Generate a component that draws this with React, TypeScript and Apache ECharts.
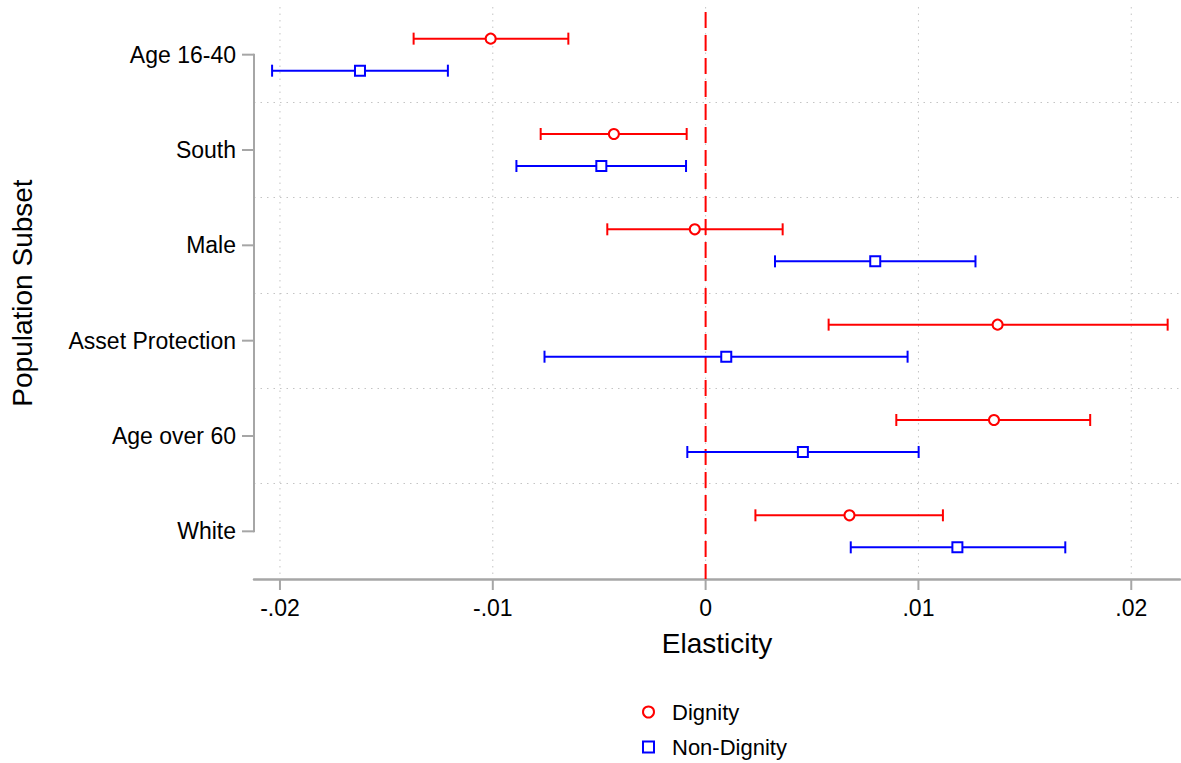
import React, { useEffect, useRef } from "react";
import * as echarts from "echarts";

const categories = [
  "Age 16-40",
  "South",
  "Male",
  "Asset Protection",
  "Age over 60",
  "White",
];

// [lower, upper, estimate] per category
const dignity = [
  [-0.01372, -0.00645, -0.0101],
  [-0.00775, -0.00089, -0.00431],
  [-0.00462, 0.00362, -0.00051],
  [0.00578, 0.02171, 0.01372],
  [0.00896, 0.01807, 0.01355],
  [0.00234, 0.01115, 0.00676],
];

const nonDignity = [
  [-0.02037, -0.01211, -0.01624],
  [-0.00889, -0.00092, -0.0049],
  [0.00326, 0.01268, 0.00797],
  [-0.00757, 0.00949, 0.00097],
  [-0.00086, 0.01001, 0.00457],
  [0.00682, 0.0169, 0.01183],
];

const xTicks = [-0.02, -0.01, 0, 0.01, 0.02];
const refLine = [0];
const X_MIN = -0.02122;
const X_MAX = 0.02229;

const RED = "#ff0000";
const BLUE = "#0000ff";
const GREY = "#a6a6a6";
const DOT = "#c4c4c4";
const FONT = "'Liberation Sans', Arial, sans-serif";

const makeRender =
  (color: string, shift: number, marker: "circle" | "rect") =>
  (params: any, api: any) => {
    const cat = api.value(3);
    const band = api.size([0, 1])[1];
    const p0 = api.coord([api.value(0), cat]);
    const p1 = api.coord([api.value(1), cat]);
    const pe = api.coord([api.value(2), cat]);
    const y = p0[1] + band * shift;
    const cap = 6;
    const line = { stroke: color, lineWidth: 2 };
    const children: any[] = [
      { type: "line", shape: { x1: p0[0], y1: y, x2: p1[0], y2: y }, style: line },
      { type: "line", shape: { x1: p0[0], y1: y - cap, x2: p0[0], y2: y + cap }, style: line },
      { type: "line", shape: { x1: p1[0], y1: y - cap, x2: p1[0], y2: y + cap }, style: line },
    ];
    if (marker === "circle") {
      children.push({
        type: "circle",
        shape: { cx: pe[0], cy: y, r: 5 },
        style: { fill: "#fff", stroke: color, lineWidth: 2 },
      });
    } else {
      children.push({
        type: "rect",
        shape: { x: pe[0] - 5, y: y - 5, width: 10, height: 10 },
        style: { fill: "#fff", stroke: color, lineWidth: 2 },
      });
    }
    return { type: "group", children };
  };

// x tick marks and vertical dotted grid lines
const renderXTicks = (params: any, api: any) => {
  const cs = params.coordSys;
  const x = api.coord([api.value(0), 0])[0];
  const bottom = cs.y + cs.height;
  return {
    type: "group",
    children: [
      {
        type: "line",
        shape: { x1: x, y1: cs.y, x2: x, y2: bottom },
        style: { stroke: DOT, lineWidth: 1, lineDash: [1.5, 5] },
      },
      {
        type: "line",
        shape: { x1: x, y1: bottom, x2: x, y2: bottom + 11 },
        style: { stroke: GREY, lineWidth: 2 },
      },
    ],
  };
};

// y axis line from the first to the last category, with its ticks
const renderYAxis = (params: any, api: any) => {
  const cs = params.coordSys;
  const a = api.coord([X_MIN, 0]);
  const b = api.coord([X_MIN, categories.length - 1]);
  const children: any[] = [
    {
      type: "line",
      shape: { x1: cs.x, y1: a[1] - 1, x2: cs.x, y2: b[1] + 1 },
      style: { stroke: GREY, lineWidth: 2 },
    },
  ];
  categories.forEach((_, i) => {
    const p = api.coord([X_MIN, i]);
    children.push({
      type: "line",
      shape: { x1: cs.x - 12, y1: p[1], x2: cs.x, y2: p[1] },
      style: { stroke: GREY, lineWidth: 2 },
    });
  });
  return { type: "group", children };
};

const renderRef = (params: any, api: any) => {
  const cs = params.coordSys;
  const x = api.coord([api.value(0), 0])[0];
  return {
    type: "line",
    shape: { x1: x, y1: cs.y + 5, x2: x, y2: cs.y + cs.height },
    style: { stroke: RED, lineWidth: 2, lineDash: [16, 7] },
  };
};

const App = () => {
  const chartRef = useRef<HTMLDivElement>(null);

  useEffect(() => {
    if (!chartRef.current) return;
    const chart = echarts.init(chartRef.current, undefined, { renderer: "svg" });

    const option: echarts.EChartsOption = {
      animation: false,
      backgroundColor: "#fff",
      textStyle: { fontFamily: FONT },
      grid: { left: 252, right: 1, top: 7, bottom: 184 },
      legend: {
        orient: "vertical",
        left: 642,
        top: 700,
        padding: 0,
        itemWidth: 11,
        itemHeight: 11,
        itemGap: 11,
        textStyle: {
          fontFamily: FONT,
          fontSize: 22,
          color: "#000",
          lineHeight: 24,
          padding: [0, 0, 0, 13],
        },
        data: [
          {
            name: "Dignity",
            icon: "circle",
            itemStyle: { color: "#fff", borderColor: RED, borderWidth: 2 },
          },
          {
            name: "Non-Dignity",
            icon: "rect",
            itemStyle: { color: "#fff", borderColor: BLUE, borderWidth: 2 },
          },
        ],
      },
      xAxis: {
        type: "value",
        min: X_MIN,
        max: X_MAX,
        name: "Elasticity",
        nameLocation: "middle",
        nameGap: 50,
        nameTextStyle: { fontFamily: FONT, fontSize: 28, color: "#000" },
        axisLine: { show: true, lineStyle: { color: GREY, width: 2.5 } },
        axisTick: { show: false },
        axisLabel: {
          showMinLabel: false,
          showMaxLabel: false,
          margin: 17,
          fontFamily: FONT,
          fontSize: 23,
          color: "#000",
          formatter: (v: number) =>
            v === 0 ? "0" : String(v).replace("0.", "."),
        },
        splitLine: { show: false },
      },
      yAxis: {
        type: "category",
        data: categories,
        inverse: true,
        name: "Population Subset",
        nameLocation: "middle",
        nameGap: 218,
        nameTextStyle: { fontFamily: FONT, fontSize: 28, color: "#000" },
        axisLine: { show: false },
        axisTick: { show: false },
        axisLabel: {
          margin: 18,
          fontFamily: FONT,
          fontSize: 23,
          color: "#000",
        },
        splitLine: {
          show: true,
          interval: 0,
          lineStyle: {
            width: 1,
            type: [1.5, 5] as any,
            color: ["transparent", DOT, DOT, DOT, DOT, DOT, "transparent"],
          },
        },
      },
      series: [
        {
          type: "custom",
          renderItem: renderXTicks as any,
          encode: { x: 0 },
          data: xTicks.map((v) => [v]),
          silent: true,
          z: 1,
        },
        {
          type: "custom",
          renderItem: renderYAxis as any,
          data: [[0]],
          silent: true,
          z: 2,
        },
        {
          type: "custom",
          renderItem: renderRef as any,
          encode: { x: 0 },
          data: refLine.map((v) => [v]),
          silent: true,
          z: 3,
        },
        {
          name: "Dignity",
          type: "custom",
          renderItem: makeRender(RED, -0.168, "circle") as any,
          encode: { x: [0, 1, 2], y: 3 },
          data: dignity.map((d, i) => [d[0], d[1], d[2], i]),
          z: 5,
        },
        {
          name: "Non-Dignity",
          type: "custom",
          renderItem: makeRender(BLUE, 0.168, "rect") as any,
          encode: { x: [0, 1, 2], y: 3 },
          data: nonDignity.map((d, i) => [d[0], d[1], d[2], i]),
          z: 5,
        },
      ],
    };

    chart.setOption(option);
    return () => chart.dispose();
  }, []);

  return (
    <div
      ref={chartRef}
      style={{
        position: "fixed",
        left: 0,
        top: 0,
        width: 1181,
        height: 763,
        background: "#fff",
      }}
    />
  );
};

export default App;
